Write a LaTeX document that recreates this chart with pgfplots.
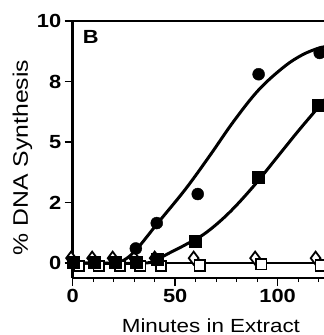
\documentclass[border=0pt]{standalone}
\usepackage{fontspec}
\setmainfont{Liberation Sans}
\newfontfamily\tickfont[FakeStretch=1.15]{Liberation Sans}
\newfontfamily\labfont[FakeStretch=1.18]{Liberation Sans}
\usepackage{pgfplots}
\pgfplotsset{compat=1.18}
\begin{document}
\begin{tikzpicture}
\useasboundingbox (-72.7pt,-57pt) rectangle (251.3pt,278pt);
\begin{axis}[
  at={(0,0)}, anchor=south west,
  scale only axis, width=251.3pt, height=257pt,
  xmin=0, xmax=122.6, ymin=-0.62, ymax=10,
  axis x line*=bottom, axis y line*=left,
  axis line style={line width=2.5pt},
  xtick={0,50,100}, minor xtick={10,20,30,40,60,70,80,90,110,120},
  ytick={0,2.5,5,7.5,10}, yticklabels={0,2,5,8,10},
  tick align=outside, major tick length=8pt, minor tick length=4pt,
  major tick style={line width=1.6pt, black},
  minor tick style={line width=1.2pt, black},
  ticklabel style={font=\tickfont\bfseries\fontsize{19}{20}\selectfont},
  /pgf/number format/assume math mode=true,
  clip=false,
]
\draw[line width=2pt] (rel axis cs:0,1) -- (rel axis cs:1,1);
% near-zero line for open series
\addplot[line width=2.5pt, no marks] coordinates {(0,0) (123,0)};
% open diamonds
\addplot[only marks, mark=diamond*, mark size=6.5pt, mark options={fill=white, draw=black, line width=1.8pt}]
  coordinates {(-0.8,0.2) (9.5,0.2) (19.5,0.2) (30,0.2) (40,0.2) (59,0.2) (89,0.2) (118.5,0.2)};
% open squares
\addplot[only marks, mark=square*, mark size=5.2pt, mark options={fill=white, draw=black, line width=1.8pt}]
  coordinates {(3,-0.12) (12.7,-0.12) (23,-0.12) (33,-0.12) (43,-0.12) (62,-0.1) (92,-0.05) (121,-0.1)};
% filled circle curve
\addplot[line width=3pt, smooth, tension=0.6, no marks] coordinates {
  (0,0) (20,0) (25,0.12) (31,0.55) (41.5,1.65) (55,3.05) (67,4.45) (78.5,5.85)
  (90.7,7.15) (103,8.1) (112,8.6) (120,8.88) (123,8.93)};
\addplot[only marks, mark=*, mark size=6pt] coordinates {
  (0.3,0) (10.6,0) (20.7,0) (30.8,0.6) (41,1.65) (61,2.85) (90.7,7.8) (120.5,8.68)};
% filled square curve
\addplot[line width=3pt, smooth, tension=0.6, no marks] coordinates {
  (0,0) (35,0) (41.5,0.17) (48,0.45) (56,0.8) (65,1.25) (76,2.05)
  (88,3.15) (100,4.4) (110,5.45) (120,6.45) (123,6.75)};
\addplot[only marks, mark=square*, mark size=6pt] coordinates {
  (0.3,0.03) (10.6,0.05) (20.7,0.03) (30.8,0.03) (41.3,0.15) (60,0.9) (90.3,3.55) (120,6.53)};
% labels
\node[anchor=north west, inner sep=0pt, font=\tickfont\bfseries\fontsize{19}{20}\selectfont]
  at ([xshift=10pt,yshift=-9pt]rel axis cs:0,1) {B};
\node[anchor=base, inner sep=0pt, font=\labfont\fontsize{19}{22}\selectfont]
  at ([yshift=-54pt]rel axis cs:0.55,0) {Minutes in Extract};
\node[anchor=base, rotate=90, inner sep=0pt, font=\labfont\fontsize{21}{24}\selectfont]
  at ([xshift=-44.7pt]rel axis cs:0,0.469) {\% DNA Synthesis};
\end{axis}
\end{tikzpicture}
\end{document}
